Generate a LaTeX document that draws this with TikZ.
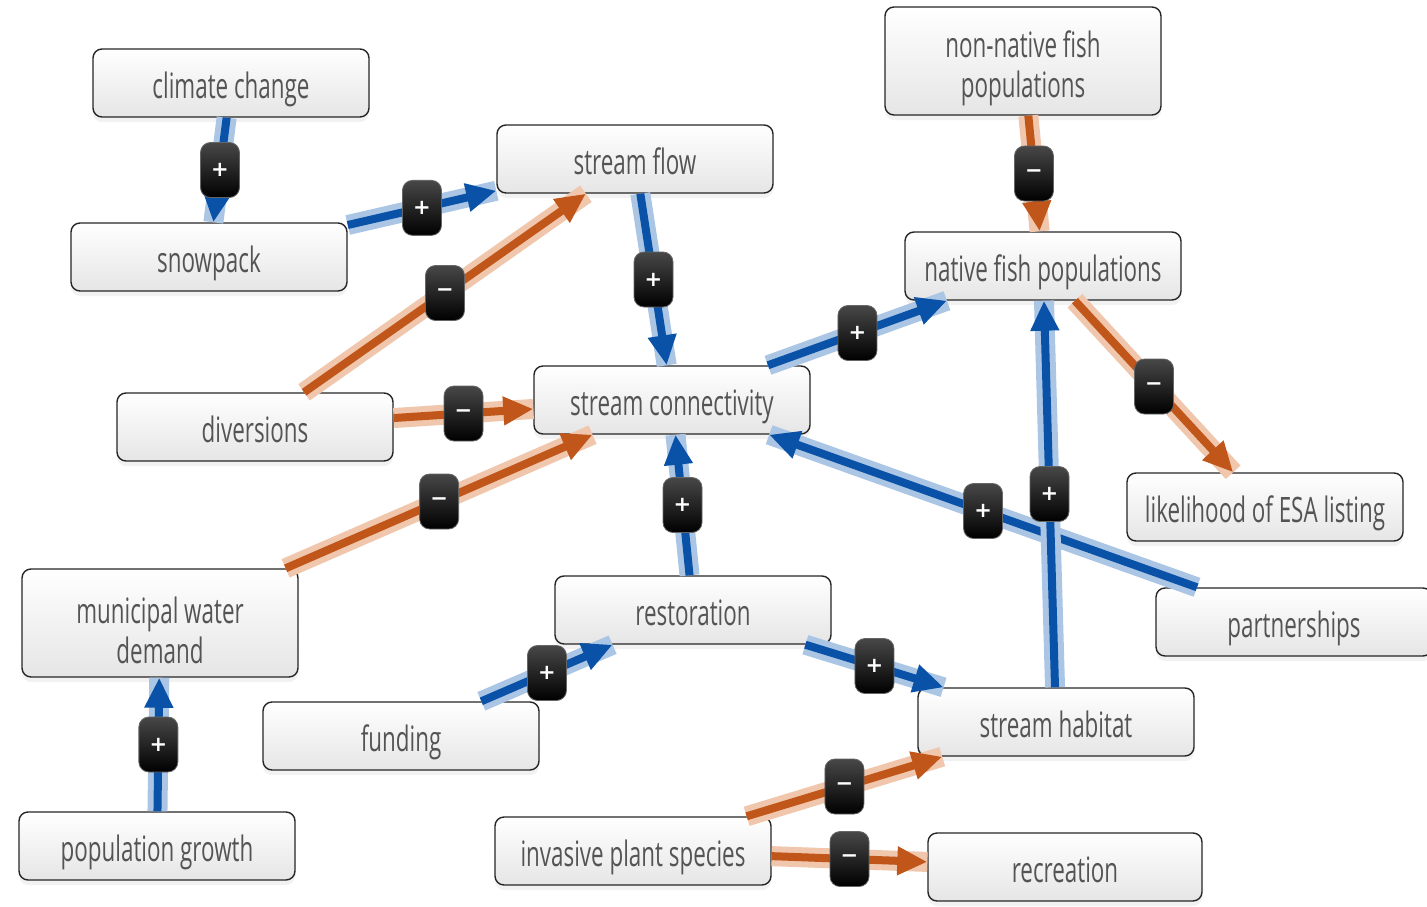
\documentclass[tikz,border=0pt]{standalone}
\usepackage{fontspec}
\setmainfont{Open Sans}
\newfontfamily\labfont[FakeStretch=0.64]{Open Sans}
\newfontfamily\badgefont{DejaVu Sans}
\usetikzlibrary{arrows.meta,shadows}
\definecolor{bluecore}{HTML}{0A52A8}
\definecolor{bluehalo}{HTML}{AAC6E4}
\definecolor{orcore}{HTML}{C0561A}
\definecolor{orhalo}{HTML}{F0C6AC}
\definecolor{txt}{HTML}{545454}
\tikzset{
  box/.style={draw=black!85, line width=1.4pt, rounded corners=9pt,
    top color=white, bottom color=black!10, minimum width=276pt,
    minimum height=68pt, inner sep=4pt,
    drop shadow={opacity=0.10, shadow xshift=0pt, shadow yshift=-5pt}},
  tallbox/.style={box, minimum height=108pt},
  lbl/.style={font=\labfont\fontsize{35}{40}\selectfont, text=txt,
    text height=26pt, text depth=8pt, inner sep=0pt, yshift=-6pt},
  lbltwo/.style={font=\labfont\fontsize{35}{40}\selectfont, text=txt,
    align=center, inner sep=0pt, yshift=-7pt},
  badge/.style={draw=black!60, line width=0.8pt, rounded corners=10pt,
    top color=black!72, bottom color=black, minimum width=39pt,
    minimum height=55pt, inner sep=0pt, text=white,
    font=\badgefont\bfseries\fontsize{21}{21}\selectfont},
  bhalo/.style={line width=20pt, draw=bluehalo},
  ohalo/.style={line width=20pt, draw=orhalo},
  bcore/.style={line width=8pt, draw=bluecore, -{Triangle[length=30pt,width=27pt]}},
  ocore/.style={line width=8pt, draw=orcore, -{Triangle[length=30pt,width=27pt]}},
}
\newcommand\plusedge[2]{%
  \draw[bhalo] (#1) -- (#2);
  \draw[bcore] (#1) -- node[badge]{+} (#2);}
\newcommand\minusedge[2]{%
  \draw[ohalo] (#1) -- (#2);
  \draw[ocore] (#1) -- node[badge]{−} (#2);}
\begin{document}
\begin{tikzpicture}[x=1pt,y=-1pt]
\clip (0,0) rectangle (1427,907);
\fill[white] (0,0) rectangle (1427,907);
\node[box, label={[lbl]center:climate change}] (cc) at (231,83) {};
\node[box, label={[lbl]center:snowpack}] (snow) at (209,257) {};
\node[box, label={[lbl]center:stream flow}] (sf) at (635,159) {};
\node[tallbox, label={[lbltwo]center:non-native fish\\populations}] (nn) at (1023,61) {};
\node[box, label={[lbl]center:native fish populations}] (nf) at (1043,266) {};
\node[box, label={[lbl]center:diversions}] (div) at (255,427) {};
\node[box, label={[lbl]center:stream connectivity}] (sc) at (672,400) {};
\node[box, label={[lbl]center:likelihood of ESA listing}] (esa) at (1265,507) {};
\node[tallbox, label={[lbltwo]center:municipal water\\demand}] (mwd) at (160,623) {};
\node[box, label={[lbl]center:partnerships}] (part) at (1294,622) {};
\node[box, label={[lbl]center:restoration}] (rest) at (693,610) {};
\node[box, label={[lbl]center:funding}] (fund) at (401,736) {};
\node[box, label={[lbl]center:stream habitat}] (hab) at (1056,722) {};
\node[box, label={[lbl]center:population growth}] (pop) at (157,846) {};
\node[box, label={[lbl]center:invasive plant species}] (inv) at (633,851) {};
\node[box, minimum width=274pt, label={[lbl]center:recreation}] (rec) at (1065,867) {};
\plusedge{cc}{snow}
\plusedge{snow}{sf}
\minusedge{div}{sf}
\plusedge{sf}{sc}
\minusedge{div}{sc}
\minusedge{nn}{nf}
\plusedge{sc}{nf}
\minusedge{nf}{esa}
\minusedge{mwd}{sc}
\plusedge{rest}{sc}
\plusedge{part}{sc}
\plusedge{hab}{nf}
\plusedge{pop}{mwd}
\plusedge{fund}{rest}
\plusedge{rest}{hab}
\minusedge{inv}{hab}
\minusedge{inv}{rec}
\end{tikzpicture}
\end{document}
